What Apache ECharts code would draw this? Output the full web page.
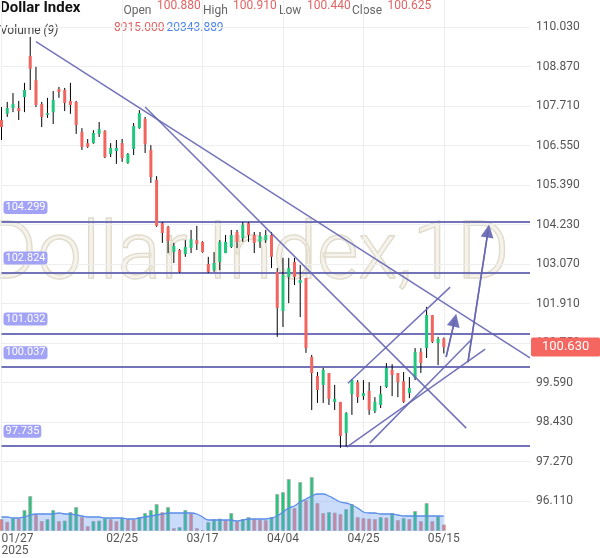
<!DOCTYPE html>
<html><head><meta charset="utf-8">
<script src="https://cdn.jsdelivr.net/npm/echarts@6/dist/echarts.min.js"></script>
<style>html,body{margin:0;padding:0;background:#fff}#c{width:600px;height:558px}</style>
</head><body><div id="c"></div>
<script>
// ---------- data ----------
const dates = ['01/27','01/28','01/29','01/30','01/31','02/03','02/04','02/05','02/06','02/07','02/10','02/11','02/12','02/13','02/14','02/17','02/18','02/19','02/20','02/21','02/24','02/25','02/26','02/27','02/28','03/03','03/04','03/05','03/06','03/07','03/10','03/11','03/12','03/13','03/14','03/17','03/18','03/19','03/20','03/21','03/24','03/25','03/26','03/27','03/28','03/31','04/01','04/02','04/03','04/04','04/07','04/08','04/09','04/10','04/11','04/14','04/15','04/16','04/17','04/21','04/22','04/23','04/24','04/25','04/28','04/29','04/30','05/01','05/02','05/05','05/06','05/07','05/08','05/09','05/12','05/13','05/14','05/15'];
const open  = [107.30,107.48,107.65,107.65,107.97,109.18,108.47,107.77,107.45,107.53,108.21,108.18,107.86,107.83,106.95,106.62,106.62,106.89,106.98,106.30,106.39,106.62,106.04,106.45,107.06,107.33,106.42,105.54,104.27,104.16,103.42,103.48,103.36,103.54,103.77,103.72,103.07,102.89,103.13,103.39,103.57,104.01,103.83,104.27,103.92,103.72,103.77,103.92,102.84,101.69,102.69,103.13,102.51,102.66,100.34,99.78,99.52,99.87,99.02,99.02,98.11,99.25,99.60,99.19,99.34,98.75,98.93,99.46,99.96,99.87,99.63,99.28,99.72,100.49,100.60,101.57,100.75,100.880];
const close = [107.09,107.65,107.77,107.56,108.18,108.80,107.74,107.39,107.50,107.89,108.12,107.80,107.74,107.15,106.51,106.51,106.92,107.03,106.21,106.48,106.48,106.18,106.30,107.12,107.50,106.59,105.62,104.19,103.98,103.75,103.60,102.84,103.57,103.80,103.66,103.42,102.84,103.10,103.72,103.72,103.92,103.72,104.22,103.92,103.69,103.89,103.92,103.28,101.78,102.75,102.95,102.69,102.60,100.60,99.87,99.37,99.96,99.11,99.11,98.02,98.69,99.66,99.16,99.28,98.78,99.02,99.25,100.02,99.81,99.60,99.02,99.43,100.49,100.16,101.57,100.78,100.87,100.625];
const low   = [106.71,107.39,107.53,107.30,107.53,108.18,107.68,107.09,107.36,107.18,107.95,107.56,107.48,106.89,106.42,106.48,106.60,106.80,106.18,106.21,106.01,106.07,106.01,106.27,107.04,106.33,105.45,104.16,103.69,103.39,103.10,102.81,103.28,103.39,103.48,103.40,102.81,102.84,102.89,103.39,103.54,103.54,103.72,103.72,103.39,103.54,103.69,102.95,100.93,101.22,101.92,102.45,101.51,100.46,98.78,98.99,98.99,98.93,98.78,97.67,97.70,98.64,98.99,99.08,98.64,98.69,98.84,99.43,99.19,99.16,98.99,99.13,99.66,99.87,100.31,100.75,100.10,100.440];
const high  = [107.68,107.83,108.09,107.86,108.39,109.74,108.86,107.83,107.95,108.15,108.27,108.24,108.39,107.86,107.06,106.74,107.00,107.24,107.00,106.62,106.71,106.74,106.33,107.21,107.59,107.39,106.56,105.65,104.30,104.19,103.69,103.51,103.77,104.07,104.19,103.74,103.28,103.42,103.77,103.92,104.07,104.07,104.30,104.30,104.01,104.01,104.07,104.01,102.95,103.25,103.25,103.25,103.04,102.66,100.40,99.90,100.02,99.87,99.52,99.02,98.72,99.69,99.66,99.66,99.60,99.16,99.49,100.16,100.13,99.87,99.90,99.75,100.60,100.60,101.81,101.57,100.93,100.910];
const volume = [16320,12650,17680,17000,28560,47600,23120,13600,16320,28560,13600,14280,25840,32640,19040,6800,13600,14280,17680,16320,13600,17680,16320,15640,19040,24480,28560,36720,25840,32640,4080,5440,28560,24480,4080,1360,12240,16320,17000,14960,24480,13600,16320,19040,16320,15640,14960,19040,50320,53040,70720,31280,66640,42160,73440,38080,24480,25840,25160,23120,29920,36720,19040,17680,17000,16320,19040,18360,24480,14960,17680,16320,27200,13600,38080,13600,20400,8915];
const volumeMA = [19040,19040,17680,17680,19040,21760,23120,23120,23120,23120,24480,23120,23120,21760,20400,19040,19040,19040,17680,17680,17680,17680,16320,16320,17680,19040,20400,21760,23120,24480,24480,24480,24480,24480,23120,19040,14960,14960,14960,14960,14960,13600,14960,16320,16320,16320,16320,17680,20400,25840,31280,34000,39440,43520,47600,50320,50320,47600,43520,39440,38080,35360,31280,25840,24480,24480,23120,23120,23120,21760,20400,20400,20400,20400,20400,20400,20400,20343.889];
const maPeriod = 9;
const yMin = 96.11, yMax = 110.03, yStep = 1.16;
const levels = [104.299, 102.824, 101.032, 100.037, 97.735];
const lastPrice = 100.630;
const labelDates = ['01/27','02/25','03/17','04/04','04/25','05/15'];
const firstYear = '2025';
// drawn lines, [index, price] pairs
const trendLines = [
  [[6.0, 109.60], [92.0, 100.31]],
  [[25.0, 107.68], [80.9, 98.25]],
  [[60.3, 99.57], [78.1, 102.39]],
  [[60.1, 97.69], [84.2, 100.57]],
  [[64.1, 97.81], [81.9, 100.87]]
];
const arrows = [
  [[77.4, 100.34], [78.9, 101.42]],
  [[81.2, 100.19], [84.7, 104.04]]
];

// ---------- styling ----------
const UP = '#1fc77c', DOWN = '#f2655f';
const LINE = 'rgba(100,100,178,0.9)';
const padCount = 15;
const cats = dates.concat(Array(padCount).fill(''));
const lastIdx = dates.length - 1;
const n = cats.length - 1;

const volColors = volume.map((v, i) => (i > 0 && v > volume[i - 1]) ? UP : DOWN);

const chart = echarts.init(document.getElementById('c'), null, {renderer: 'canvas'});

const hdr = [];
function txt(x, y, text, font, fill) {
  hdr.push({type: 'text', x: x, y: y, silent: true, style: {text: text, font: font, fill: fill, verticalAlign: 'middle'}});
}
const f12 = '12px Roboto';
txt(0, 8, 'Dollar Index', 'bold 15px Roboto', '#111');
txt(123.5, 10.5, 'Open', f12, '#666');
txt(157, 6, open[lastIdx].toFixed(3), f12, '#e06464');
txt(203, 10.5, 'High', f12, '#666');
txt(233, 6, high[lastIdx].toFixed(3), f12, '#e06464');
txt(279, 10.5, 'Low', f12, '#666');
txt(307, 6, low[lastIdx].toFixed(3), f12, '#e06464');
txt(352, 10.5, 'Close', f12, '#666');
txt(387.5, 6, close[lastIdx].toFixed(3), f12, '#e06464');
hdr.push({type: 'text', x: 0, y: 31, silent: true, style: {
  text: '{a|Volume }{b|(' + maPeriod + ')}', verticalAlign: 'middle',
  rich: {a: {font: f12, fill: '#444'}, b: {font: 'italic 12px Roboto', fill: '#444'}}}});
txt(114, 27.5, volume[lastIdx].toFixed(3), f12, '#e06464');
txt(166.5, 27.5, volumeMA[lastIdx].toFixed(3), f12, '#4f86ec');

const watermark = {type: 'text', x: 247, y: 258, z: -100, silent: true, style: {
  text: 'Dollar Index,1D', font: '300 80px Roboto', fill: 'rgba(232,228,212,0.45)',
  stroke: 'rgba(200,192,165,0.6)', lineWidth: 1.4, align: 'center', verticalAlign: 'middle'}};

const series = [];
// volume bars
series.push({
  type: 'bar', xAxisIndex: 2, yAxisIndex: 1, barWidth: 4, silent: true,
  data: volume.map((v, i) => ({value: v, itemStyle: {color: volColors[i], opacity: volColors[i] === UP ? 1 : 0.85}})),
  itemStyle: {borderColor: 'rgba(170,170,170,0.8)', borderWidth: 1}, z: 1
});
// volume MA
series.push({
  type: 'line', xAxisIndex: 2, yAxisIndex: 1, data: volumeMA, smooth: 0.4, symbol: 'none', silent: true,
  lineStyle: {color: '#5a8de8', width: 1.3}, areaStyle: {color: 'rgba(105,155,240,0.5)'}, z: 2
});
// candles
series.push({
  type: 'custom', xAxisIndex: 0, yAxisIndex: 0, clip: false, silent: true, z: 5,
  data: dates.map((d, i) => [i, open[i], close[i], low[i], high[i]]),
  encode: {x: 0, y: [1, 2, 3, 4]},
  renderItem: function (params, api) {
    const i = api.value(0), o = api.value(1), c = api.value(2), l = api.value(3), h = api.value(4);
    const pH = api.coord([i, h]), pL = api.coord([i, l]), pO = api.coord([i, o]), pC = api.coord([i, c]);
    const x = pH[0];
    const top = Math.min(pO[1], pC[1]), bot = Math.max(pO[1], pC[1]);
    return {type: 'group', children: [
      {type: 'line', shape: {x1: x, y1: pH[1], x2: x, y2: pL[1]}, style: {stroke: '#000', lineWidth: 1}},
      {type: 'rect', shape: {x: x - 1.5, y: top, width: 3, height: Math.max(bot - top, 1)}, style: {fill: c >= o ? UP : DOWN}}
    ]};
  }
});
// horizontal levels + last price
series.push({
  type: 'line', xAxisIndex: 0, yAxisIndex: 0, data: close, symbol: 'none', silent: true,
  lineStyle: {color: 'rgba(0,0,0,0)', width: 0}, z: 6,
  markLine: {
    silent: true, symbol: ['none', 'none'], animation: false,
    data: levels.map(v => ({
      yAxis: v,
      lineStyle: {color: LINE, width: 2, type: 'solid'},
      label: {show: true, position: 'insideStartTop', formatter: v.toFixed(3), distance: [2, 8],
        color: '#fff', fontSize: 11, fontFamily: 'Roboto', backgroundColor: '#a2a2f6',
        padding: [1, 2], borderRadius: 3}
    })).concat([{
      yAxis: lastPrice,
      lineStyle: {color: 'rgba(0,0,0,0)', width: 0, type: 'solid'},
      label: {show: true, position: 'end', formatter: lastPrice.toFixed(3), distance: 1,
        color: '#fff', fontSize: 13, fontFamily: 'Roboto', backgroundColor: '#f4665f',
        padding: [3, 11], borderRadius: 2}
    }])
  }
});
// trend lines
trendLines.forEach(seg => series.push({
  type: 'line', xAxisIndex: 1, yAxisIndex: 0, data: seg, symbol: 'none', silent: true, z: 7,
  lineStyle: {color: LINE, width: 1.5}
}));
// arrows
arrows.forEach(seg => series.push({
  type: 'line', xAxisIndex: 1, yAxisIndex: 0, data: seg, symbol: 'none', silent: true, z: 7,
  lineStyle: {color: LINE, width: 1.5},
  markLine: {silent: true, animation: false, symbol: ['none', 'triangle'], symbolSize: [13, 13],
    data: [[{coord: seg[0]}, {coord: seg[1]}]],
    lineStyle: {color: LINE, width: 1.5, type: 'solid'},
    itemStyle: {color: 'rgba(110,110,190,0.85)', borderColor: LINE, borderWidth: 1.5},
    label: {show: false}}
}));

const option = {
  animation: false,
  backgroundColor: '#fff',
  grid: [
    {left: 1.5, right: 70, top: 27, bottom: 57, containLabel: false, outerBoundsMode: 'none'},
    {left: 1.5, right: 70, top: 0, bottom: 27, containLabel: false, outerBoundsMode: 'none'}
  ],
  xAxis: [
    {type: 'category', gridIndex: 0, data: cats, boundaryGap: false, show: false},
    {type: 'value', gridIndex: 0, min: 0, max: n, show: false},
    {type: 'category', gridIndex: 1, data: cats, boundaryGap: false,
      axisLine: {show: false}, axisTick: {show: false},
      axisLabel: {interval: (i, v) => labelDates.includes(v), color: '#555', fontSize: 12, fontFamily: 'Roboto',
        margin: 2, lineHeight: 12, alignMinLabel: 'left', showMinLabel: true, showMaxLabel: true, hideOverlap: false,
        formatter: (v, i) => i === 0 ? v + '\n' + firstYear : v},
      splitLine: {show: true, interval: (i, v) => labelDates.includes(v), lineStyle: {color: '#eeeeee', width: 1}}}
  ],
  yAxis: [
    {type: 'value', gridIndex: 0, position: 'right', min: yMin, max: yMax, interval: yStep, scale: true,
      axisLine: {show: false}, axisTick: {show: false},
      axisLabel: {formatter: v => v.toFixed(3), color: '#555', fontSize: 12, fontFamily: 'Roboto', margin: 6},
      splitLine: {show: true, lineStyle: {color: '#eeeeee', width: 1}}},
    {type: 'value', gridIndex: 1, min: 0, max: 722160, show: false, splitLine: {show: false}}
  ],
  graphic: [watermark].concat(hdr),
  series: series
};
chart.setOption(option);
</script>
</body></html>
